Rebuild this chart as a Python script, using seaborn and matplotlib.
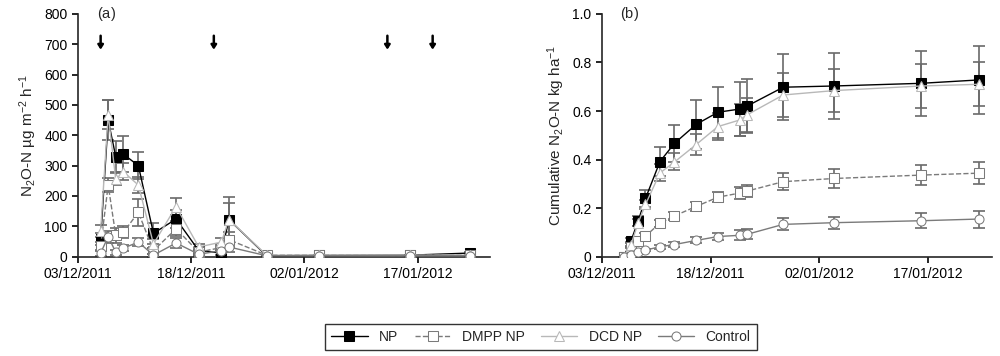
import matplotlib
matplotlib.use('Agg')
import matplotlib.pyplot as plt
import matplotlib.dates as mdates
import seaborn as sns
import pandas as pd
import numpy as np

sns.set_style('ticks')
plt.rcParams['font.family'] = ['Liberation Sans', 'DejaVu Sans']
plt.rcParams['mathtext.default'] = 'regular'

# sampling dates (same for both panels)
dates = pd.to_datetime(['2011-12-06', '2011-12-07', '2011-12-08', '2011-12-09', '2011-12-11',
                        '2011-12-13', '2011-12-16', '2011-12-19', '2011-12-22', '2011-12-23',
                        '2011-12-28', '2012-01-04', '2012-01-16', '2012-01-24'])
arrow_dates = pd.to_datetime(['2011-12-06', '2011-12-21', '2012-01-13', '2012-01-19'])
tick_dates = pd.to_datetime(['2011-12-03', '2011-12-18', '2012-01-02', '2012-01-17'])
tick_labels = ['03/12/2011', '18/12/2011', '02/01/2012', '17/01/2012']

treatments = ['NP', 'DMPP NP', 'DCD NP', 'Control']

# (a) N2O-N flux, ug m-2 h-1
flux_np = [58, 450, 330, 338, 300, 77, 124, 20, 12, 122, 3, 4, 5, 12]
flux_dmpp = [35, 236, 70, 80, 146, 20, 92, 15, 30, 56, 5, 5, 4, 5]
flux_dcd = [85, 468, 255, 280, 236, 42, 165, 32, 48, 122, 5, 5, 5, 5]
flux_ctrl = [12, 66, 15, 28, 48, 5, 45, 8, 20, 32, 3, 3, 3, 3]
flux_np_err = [20, 65, 50, 58, 45, 35, 30, 10, 8, 75, 2, 2, 2, 5]
flux_dmpp_err = [15, 22, 25, 20, 45, 10, 25, 8, 10, 25, 2, 2, 2, 2]
flux_dcd_err = [20, 48, 20, 28, 25, 15, 28, 10, 15, 55, 2, 2, 2, 2]
flux_ctrl_err = [10, 20, 8, 10, 12, 5, 15, 5, 5, 15, 2, 2, 2, 2]

# (b) cumulative N2O-N, kg ha-1
cum_np = [0.0, 0.065, 0.148, 0.24, 0.392, 0.467, 0.545, 0.595, 0.608, 0.62, 0.698, 0.703, 0.714, 0.728]
cum_dmpp = [0.0, 0.04, 0.065, 0.085, 0.138, 0.168, 0.207, 0.245, 0.262, 0.27, 0.309, 0.322, 0.336, 0.344]
cum_dcd = [0.0, 0.05, 0.14, 0.215, 0.345, 0.39, 0.462, 0.536, 0.563, 0.584, 0.666, 0.684, 0.703, 0.71]
cum_ctrl = [0.0, 0.008, 0.018, 0.027, 0.041, 0.05, 0.067, 0.083, 0.088, 0.092, 0.133, 0.14, 0.148, 0.155]
cum_np_err = [0.0, 0.01, 0.02, 0.035, 0.06, 0.075, 0.1, 0.105, 0.11, 0.11, 0.135, 0.135, 0.135, 0.14]
cum_dmpp_err = [0.0, 0.005, 0.01, 0.012, 0.015, 0.018, 0.02, 0.02, 0.025, 0.025, 0.035, 0.04, 0.04, 0.045]
cum_dcd_err = [0.0, 0.01, 0.015, 0.02, 0.035, 0.035, 0.045, 0.055, 0.065, 0.07, 0.09, 0.09, 0.09, 0.09]
cum_ctrl_err = [0.0, 0.005, 0.005, 0.005, 0.008, 0.01, 0.012, 0.015, 0.02, 0.02, 0.025, 0.025, 0.03, 0.035]

flux = [flux_np, flux_dmpp, flux_dcd, flux_ctrl]
flux_err = [flux_np_err, flux_dmpp_err, flux_dcd_err, flux_ctrl_err]
cum = [cum_np, cum_dmpp, cum_dcd, cum_ctrl]
cum_err = [cum_np_err, cum_dmpp_err, cum_dcd_err, cum_ctrl_err]

styles = {
    'NP': dict(color='black', marker='s', markerfacecolor='black', markeredgecolor='black', linestyle='-'),
    'DMPP NP': dict(color='#7a7a7a', marker='s', markerfacecolor='white', markeredgecolor='#7a7a7a', linestyle='--'),
    'DCD NP': dict(color='#b8b8b8', marker='^', markerfacecolor='white', markeredgecolor='#b8b8b8', linestyle='-'),
    'Control': dict(color='#7a7a7a', marker='o', markerfacecolor='white', markeredgecolor='#7a7a7a', linestyle='-'),
}

fig = plt.figure(figsize=(10, 3.56), dpi=100)
ax1 = fig.add_axes([0.078, 0.279, 0.412, 0.682])
ax2 = fig.add_axes([0.602, 0.279, 0.39, 0.682])


def draw_panel(ax, values, errors):
    for name, vals, errs in zip(treatments, values, errors):
        ax.errorbar(dates, vals, yerr=errs, fmt='none', ecolor='#6a6a6a',
                    elinewidth=1.2, capsize=4, capthick=1.2, zorder=2)
    for name, vals in zip(treatments, values):
        sns.lineplot(x=dates, y=vals, ax=ax, label=name, markersize=6.5,
                     linewidth=1.0, zorder=3, **styles[name])
    ax.set_xticks(tick_dates)
    ax.set_xticklabels(tick_labels)
    ax.tick_params(axis='both', labelsize=10, direction='out', length=4, width=1.2, colors='black')
    for s in ['left', 'bottom']:
        ax.spines[s].set_linewidth(1.2)
    sns.despine(ax=ax)
    ax.set_xlabel('')
    if ax.get_legend() is not None:
        ax.get_legend().remove()


draw_panel(ax1, flux, flux_err)
ax1.set_xlim(pd.Timestamp('2011-12-03'), pd.Timestamp('2011-12-03') + pd.Timedelta(days=54.6))
ax1.set_ylim(0, 800)
ax1.set_yticks(np.arange(0, 801, 100))
ax1.set_ylabel('N$_2$O-N µg m$^{-2}$ h$^{-1}$', fontsize=11)
ax1.text(0.045, 1.0, '($a$)', transform=ax1.transAxes, fontsize=10.5, va='center')
for d in arrow_dates:
    x = mdates.date2num(d)
    ax1.annotate('', xy=(x, 682), xytext=(x, 728),
                 arrowprops=dict(arrowstyle='-|>,head_width=0.16,head_length=0.25',
                                 lw=1.8, color='black', shrinkA=0, shrinkB=0))

draw_panel(ax2, cum, cum_err)
ax2.set_xlim(pd.Timestamp('2011-12-03'), pd.Timestamp('2011-12-03') + pd.Timedelta(days=53.8))
ax2.set_ylim(0, 1.0)
ax2.set_yticks([0, 0.2, 0.4, 0.6, 0.8, 1.0])
ax2.set_yticklabels(['0', '0.2', '0.4', '0.6', '0.8', '1.0'])
ax2.set_ylabel('Cumulative N$_2$O-N kg ha$^{-1}$', fontsize=11)
ax2.text(0.045, 1.0, '($b$)', transform=ax2.transAxes, fontsize=10.5, va='center')

handles, labels = ax1.get_legend_handles_labels()
leg = fig.legend(handles[:4], labels[:4], loc='center', bbox_to_anchor=(0.541, 0.053),
                 ncol=4, frameon=True, fancybox=False, edgecolor='black', fontsize=10,
                 handlelength=2.6, columnspacing=1.2, borderpad=0.45)
leg.get_frame().set_linewidth(1.0)

fig.savefig('out.png', dpi=100)
